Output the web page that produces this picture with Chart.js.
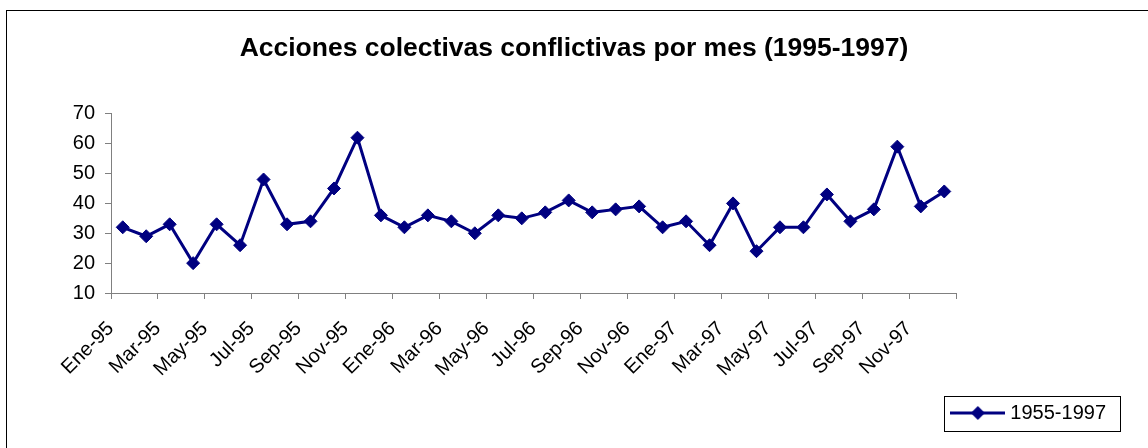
<!DOCTYPE html>
<html>
<head>
<meta charset="utf-8">
<script src="https://cdn.jsdelivr.net/npm/chart.js@4/dist/chart.umd.min.js"></script>
<style>
    body { margin: 0; background: #ffffff; }
    canvas { display: block; }
</style>
</head>
<body>
<canvas id="myChart" width="1148" height="448"></canvas>
<script>
// Chart data
let months = ['Ene-95', 'Feb-95', 'Mar-95', 'Abr-95', 'May-95', 'Jun-95', 'Jul-95', 'Ago-95', 'Sep-95', 'Oct-95', 'Nov-95', 'Dic-95',
    'Ene-96', 'Feb-96', 'Mar-96', 'Abr-96', 'May-96', 'Jun-96', 'Jul-96', 'Ago-96', 'Sep-96', 'Oct-96', 'Nov-96', 'Dic-96',
    'Ene-97', 'Feb-97', 'Mar-97', 'Abr-97', 'May-97', 'Jun-97', 'Jul-97', 'Ago-97', 'Sep-97', 'Oct-97', 'Nov-97', 'Dic-97'];
let acciones = [32, 29, 33, 20, 33, 26, 48, 33, 34, 45, 62, 36,
    32, 36, 34, 30, 36, 35, 37, 41, 37, 38, 39, 32,
    34, 26, 40, 24, 32, 32, 43, 34, 38, 59, 39, 44];
let seriesName = '1955-1997';
let chartTitle = 'Acciones colectivas conflictivas por mes (1995-1997)';
let yTicks = [10, 20, 30, 40, 50, 60, 70];

// Styles
let navy = '#000080';
let axisGray = '#808080';
let font = 'Arial, "Liberation Sans", sans-serif';

// Legend symbol: line with a diamond in the middle
makeLegendSymbol = () => {
    let c = document.createElement('canvas');
    c.width = 55;
    c.height = 20;
    let g = c.getContext('2d');
    g.strokeStyle = navy;
    g.lineWidth = 3;
    g.beginPath();
    g.moveTo(0, 10);
    g.lineTo(55, 10);
    g.stroke();
    g.fillStyle = navy;
    g.beginPath();
    g.moveTo(27.5, 3);
    g.lineTo(34.5, 10);
    g.lineTo(27.5, 17);
    g.lineTo(20.5, 10);
    g.closePath();
    g.fill();
    return c;
}
let legendSymbol = makeLegendSymbol();

// Frame round the whole chart and round the legend
let framePlugin = {
    id: 'frames',
    afterDraw: (chart) => {
        let ctx = chart.ctx;
        ctx.save();
        ctx.strokeStyle = '#000000';
        ctx.lineWidth = 1;
        ctx.strokeRect(6.5, 10.5, chart.width + 10, chart.height + 10);
        let box = chart.legend.legendHitBoxes[0];
        if (box) {
            let cy = box.top + box.height / 2;
            let left = Math.round(box.left - 11) + 0.5;
            let right = Math.round(box.left + box.width + 14) + 0.5;
            let top = Math.round(cy - 17.5) + 0.5;
            ctx.strokeRect(left, top, right - left, 35);
        }
        ctx.restore();
    }
};

// Build the chart
createChart = () => {
    let ctx = document.getElementById('myChart').getContext('2d');
    let chart = new Chart(ctx, {
        type: 'line',
        data: {
            labels: months,
            datasets: [{
                label: seriesName,
                data: acciones,
                borderColor: navy,
                backgroundColor: navy,
                borderWidth: 3,
                tension: 0,
                pointStyle: 'rectRot',
                pointRadius: 6.5,
                pointBackgroundColor: navy,
                pointBorderColor: navy,
                pointBorderWidth: 1,
                yAxisID: 'y'
            }]
        },
        options: {
            responsive: false,
            animation: false,
            devicePixelRatio: 1,
            layout: { padding: { left: 32, right: 32, top: 0, bottom: 15 } },
            plugins: {
                title: {
                    display: true,
                    text: chartTitle,
                    color: '#000000',
                    font: { family: font, size: 26.5, weight: 'bold' },
                    padding: { top: 33, bottom: 49 }
                },
                legend: {
                    display: true,
                    position: 'bottom',
                    align: 'end',
                    labels: {
                        color: '#000000',
                        font: { family: font, size: 20 },
                        padding: 10,
                        usePointStyle: true,
                        pointStyleWidth: 45,
                        generateLabels: (chart) => [{
                            text: seriesName,
                            pointStyle: legendSymbol,
                            fillStyle: navy,
                            strokeStyle: navy,
                            lineWidth: 0,
                            datasetIndex: 0
                        }]
                    }
                },
                tooltip: { enabled: false }
            },
            scales: {
                x: {
                    type: 'category',
                    offset: true,
                    border: { display: true, color: axisGray, width: 1 },
                    grid: {
                        offset: true,
                        drawOnChartArea: false,
                        drawTicks: true,
                        tickLength: 6,
                        tickColor: (c) => (c.index % 2 === 1 ? 'rgba(0,0,0,0)' : axisGray)
                    },
                    ticks: {
                        autoSkip: false,
                        minRotation: 45,
                        maxRotation: 45,
                        color: '#000000',
                        font: { family: font, size: 20 },
                        padding: 18,
                        labelOffset: -12,
                        callback: function (value, index) {
                            return index % 2 === 0 ? this.getLabelForValue(value) : '';
                        }
                    },
                    afterFit: (s) => {
                        s.height = s.chart.height - 293 - s.chart.legend.height - 15;
                    }
                },
                y: {
                    position: 'left',
                    min: 10,
                    max: 70,
                    border: { display: true, color: axisGray, width: 1 },
                    grid: {
                        drawOnChartArea: false,
                        drawTicks: true,
                        tickLength: 6,
                        color: axisGray
                    },
                    afterBuildTicks: (s) => {
                        s.ticks = yTicks.map((v) => ({ value: v }));
                    },
                    ticks: {
                        color: '#000000',
                        font: { family: font, size: 20 },
                        padding: 10
                    },
                    afterFit: (s) => {
                        s.width = 79;
                    }
                },
                spacer: {
                    position: 'right',
                    display: true,
                    grid: { display: false },
                    border: { display: false },
                    ticks: { display: false },
                    afterFit: (s) => {
                        s.width = 160;
                    }
                }
            }
        },
        plugins: [framePlugin]
    });
}

window.addEventListener('load', createChart);
</script>
</body>
</html>
